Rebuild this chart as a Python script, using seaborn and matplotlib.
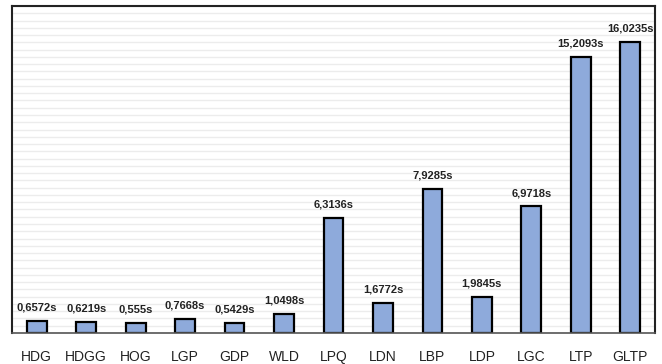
import numpy as np
import pandas as pd
import seaborn as sns
import matplotlib.pyplot as plt

methods = ["HDG", "HDGG", "HOG", "LGP", "GDP", "WLD", "LPQ", "LDN", "LBP", "LDP", "LGC", "LTP", "GLTP"]
times = [0.6572, 0.6219, 0.555, 0.7668, 0.5429, 1.0498, 6.3136, 1.6772, 7.9285, 1.9845, 6.9718, 15.2093, 16.0235]
labels = ["0,6572s", "0,6219s", "0,555s", "0,7668s", "0,5429s", "1,0498s", "6,3136s",
          "1,6772s", "7,9285s", "1,9845s", "6,9718s", "15,2093s", "16,0235s"]

df = pd.DataFrame({"method": methods, "time": times})

sns.set_style("white")
plt.rcParams['font.family'] = ['Liberation Sans', 'DejaVu Sans']

fig = plt.figure(figsize=(6.62, 3.64), dpi=100)
ax = fig.add_axes([12 / 662, 31 / 364, 643 / 662, 327 / 364])

sns.barplot(data=df, x="method", y="time", color="#8eaadb", edgecolor="black",
            linewidth=1.6, width=0.4, saturation=1, ax=ax)

ax.set_ylim(0, 18)
ax.set_xlim(-0.5, len(methods) - 0.5)
ax.set_yticks(np.arange(0, 18.01, 0.4))
ax.yaxis.grid(True, color="#ececec", linewidth=1)
ax.set_axisbelow(True)
ax.tick_params(axis="y", left=False, labelleft=False)
ax.tick_params(axis="x", bottom=False, pad=9, labelsize=10, labelcolor="#222222")
ax.set_xlabel("")
ax.set_ylabel("")

for i, (v, t) in enumerate(zip(times, labels)):
    ax.annotate(t, (i, v), xytext=(0, 6), textcoords="offset points",
                ha="center", va="bottom", fontsize=8, fontweight="bold", color="#222222")

for s in ["left", "top", "right"]:
    ax.spines[s].set_color("#222222")
    ax.spines[s].set_linewidth(1.5)
ax.spines["bottom"].set_color("#555555")
ax.spines["bottom"].set_linewidth(1.2)

fig.savefig("out.png", dpi=100)
